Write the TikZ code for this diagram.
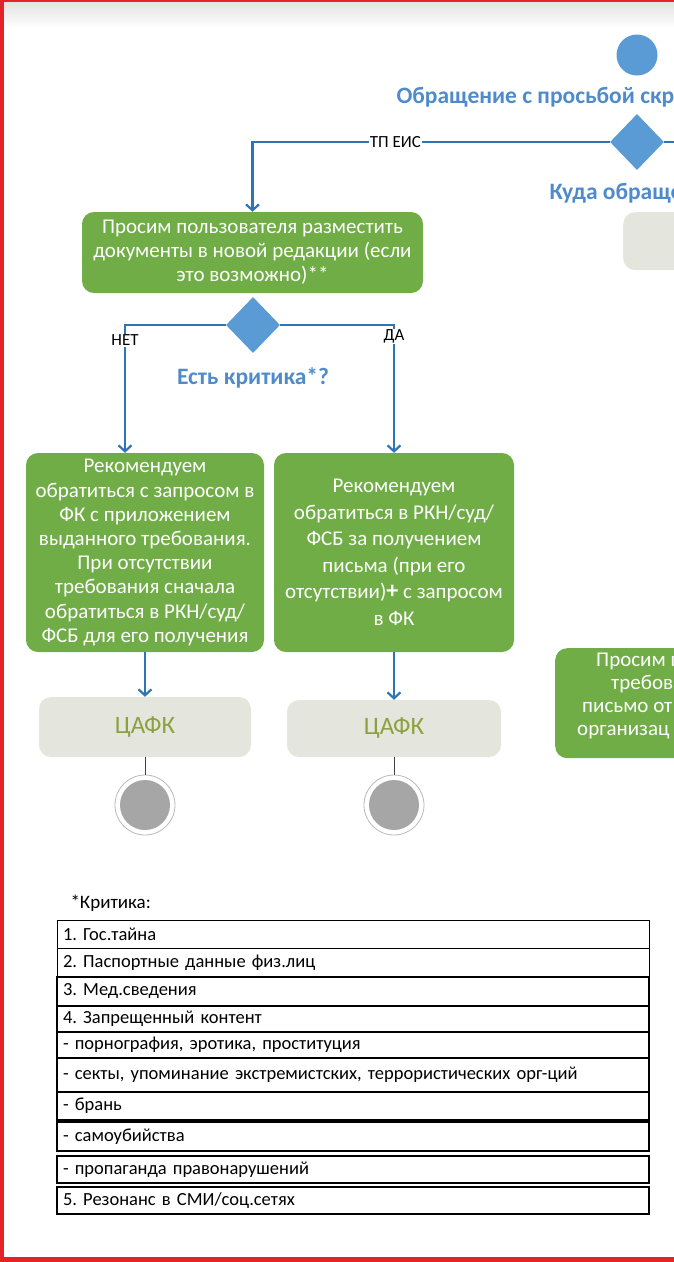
\documentclass[tikz,border=0pt]{standalone}
\usepackage{fontspec}
\setmainfont{Carlito}
\usetikzlibrary{arrows.meta,shapes.geometric,positioning}
\definecolor{flowblue}{HTML}{5B9BD5}
\definecolor{lineblue}{HTML}{2E75B6}
\definecolor{titleblue}{HTML}{4F8BCB}
\definecolor{actgreen}{HTML}{70AD47}
\definecolor{endgray}{HTML}{A6A6A6}
\definecolor{boxgray}{HTML}{E4E6DE}
\definecolor{cafkolive}{HTML}{8CA040}
\definecolor{borderred}{HTML}{E3232A}

\begin{document}
\frenchspacing
\begin{tikzpicture}[x=1pt,y=-1pt,
	act/.style={rectangle, rounded corners=12pt, fill=actgreen, text=white, align=center, inner sep=0pt, font=\fontsize{21}{24.2}\selectfont},
	cafk/.style={rectangle, rounded corners=12pt, fill=boxgray, text=cafkolive, inner sep=0pt, font=\fontsize{25}{25}\selectfont},
	decision/.style={diamond, fill=flowblue, minimum width=54pt, minimum height=56pt, inner sep=0pt},
	flow/.style={draw=lineblue, line width=2.2pt, -{Straight Barb[length=6pt,width=13pt]}},
	lbl/.style={fill=white, inner sep=1pt, text=black, font=\fontsize{17}{17}\selectfont},
	guard/.style={text=titleblue, font=\bfseries\fontsize{23.5}{23.5}\selectfont},
	finish/.style={circle, minimum size=60pt, inner sep=0pt, draw=gray!55, line width=0.8pt, fill=white, path picture={\fill[endgray] (path picture bounding box.center) circle (25pt);}},
	crit/.style={draw=black, anchor=north west, outer sep=0pt, minimum width=592pt, text width=580pt, align=left, inner xsep=5pt, inner ysep=0pt, font=\fontsize{18.5}{18.5}\selectfont}]
	\useasboundingbox (0,0) rectangle (674,1262);
	\clip (0,0) rectangle (674,1262);
	\shade[top color=gray!22, bottom color=white] (0,2) rectangle (674,28);

	% start and first choice
	\node[circle, fill=flowblue, minimum size=41pt, inner sep=0pt] (start) at (637,55) {};
	\node[guard, anchor=west] (title) at (393,97) {Обращение с просьбой скры};
	\node[decision] (d1) at (637,142) {};
	\node[guard, anchor=west] (d1lbl) at (546,193) {Куда обраще};
	\coordinate (rtedge) at (690,142);
	\node[cafk, anchor=north west, minimum width=120pt, minimum height=58pt] (reject) at (623,212) {};

	\node[act, minimum width=341pt, minimum height=81pt] (box1) at (252.5,252.5) {Просим пользователя разместить\\документы в новой редакции (если\\это возможно)**};
	\node[decision] (d2) at (253,325) {};
	\node[guard] (d2lbl) at (253,378) {Есть критика*?};

	\node[act, minimum width=238pt, minimum height=199pt] (lbox) at (145,552.5) {Рекомендуем\\обратиться с запросом в\\ФК с приложением\\выданного требования.\\При отсутствии\\требования сначала\\обратиться в РКН/суд/\\ФСБ для его получения};
	\node[act, minimum width=240pt, minimum height=199pt, font=\fontsize{21}{26.5}\selectfont] (mbox) at (394,552.5) {Рекомендуем\\обратиться в РКН/суд/\\ФСБ за получением\\письма (при его\\отсутствии){\fontsize{24}{24}\selectfont\textbf{+}} с запросом\\в ФК};
	\node[act, anchor=north west, minimum width=240pt, minimum height=110pt] (askorg) at (555,648) {};
	\node[anchor=north west, inner sep=0pt, text=white, align=left, font=\fontsize{21}{23}\selectfont] (askorgtxt) at (577,653) {\hspace*{19pt}Просим п\\\hspace*{34pt}требова\\\hspace*{5pt}письмо от\\организац};

	\node[cafk, minimum width=212pt, minimum height=60pt] (cafk1) at (145,727) {ЦАФК};
	\node[cafk, minimum width=214pt, minimum height=57pt] (cafk2) at (394,728.5) {ЦАФК};
	\node[finish] (end1) at (145,805) {};
	\node[finish] (end2) at (394,805) {};

	\draw[flow] (d1.west) -| node[lbl, pos=0.3]{ТП ЕИС} (box1.north);
	\draw[draw=lineblue, line width=2.2pt] (d1.east) -- (rtedge);
	\draw[flow] (d2.west) -| node[lbl, pos=0.56]{НЕТ} ([xshift=-20pt]lbox.north);
	\draw[flow] (d2.east) -| node[lbl, pos=0.545]{ДА} (mbox.north);
	\draw[flow] (lbox.south) -- (cafk1.north);
	\draw[flow] (mbox.south) -- (cafk2.north);
	\draw[black!75, line width=1pt] (cafk1.south) -- (end1.north);
	\draw[black!75, line width=1pt] (cafk2.south) -- (end2.north);

	% criteria list
	\node[anchor=west, font=\fontsize{19}{19}\selectfont] (crithead) at (67,903) {*Критика:};
	\node[crit, line width=1pt, minimum height=28pt] (crit1) at (57,920) {1. Гос.тайна};
	\node[crit, line width=1pt, minimum height=29pt, below=0pt of crit1] (crit2) {2. Паспортные данные физ.лиц};
	\node[crit, line width=2pt, minimum height=29pt, below=0pt of crit2] (crit3) {3. Мед.сведения};
	\node[crit, line width=2pt, minimum height=26pt, below=0pt of crit3] (crit4) {4. Запрещенный контент};
	\node[crit, line width=2pt, minimum height=26pt, below=0pt of crit4] (crit5) {- порнография, эротика, проституция};
	\node[crit, line width=2pt, minimum height=34pt, below=0pt of crit5] (crit6) {- секты, упоминание экстремистских, террористических орг-ций};
	\node[crit, line width=2.2pt, minimum height=28pt, below=0pt of crit6] (crit7) {- брань};
	\node[crit, line width=2.2pt, minimum height=29pt, below=2pt of crit7] (crit8) {- самоубийства};
	\node[crit, line width=1.4pt, minimum height=27pt, below=5pt of crit8] (crit9) {- пропаганда правонарушений};
	\node[crit, line width=1.4pt, minimum height=27pt, below=4pt of crit9] (crit10) {5. Резонанс в СМИ/соц.сетях};

	% frame
	\fill[borderred] (0,0) rectangle (4,1262);
	\fill[borderred] (0,0) rectangle (674,2);
	\fill[borderred] (0,1257) rectangle (674,1262);
\end{tikzpicture}
\end{document}
